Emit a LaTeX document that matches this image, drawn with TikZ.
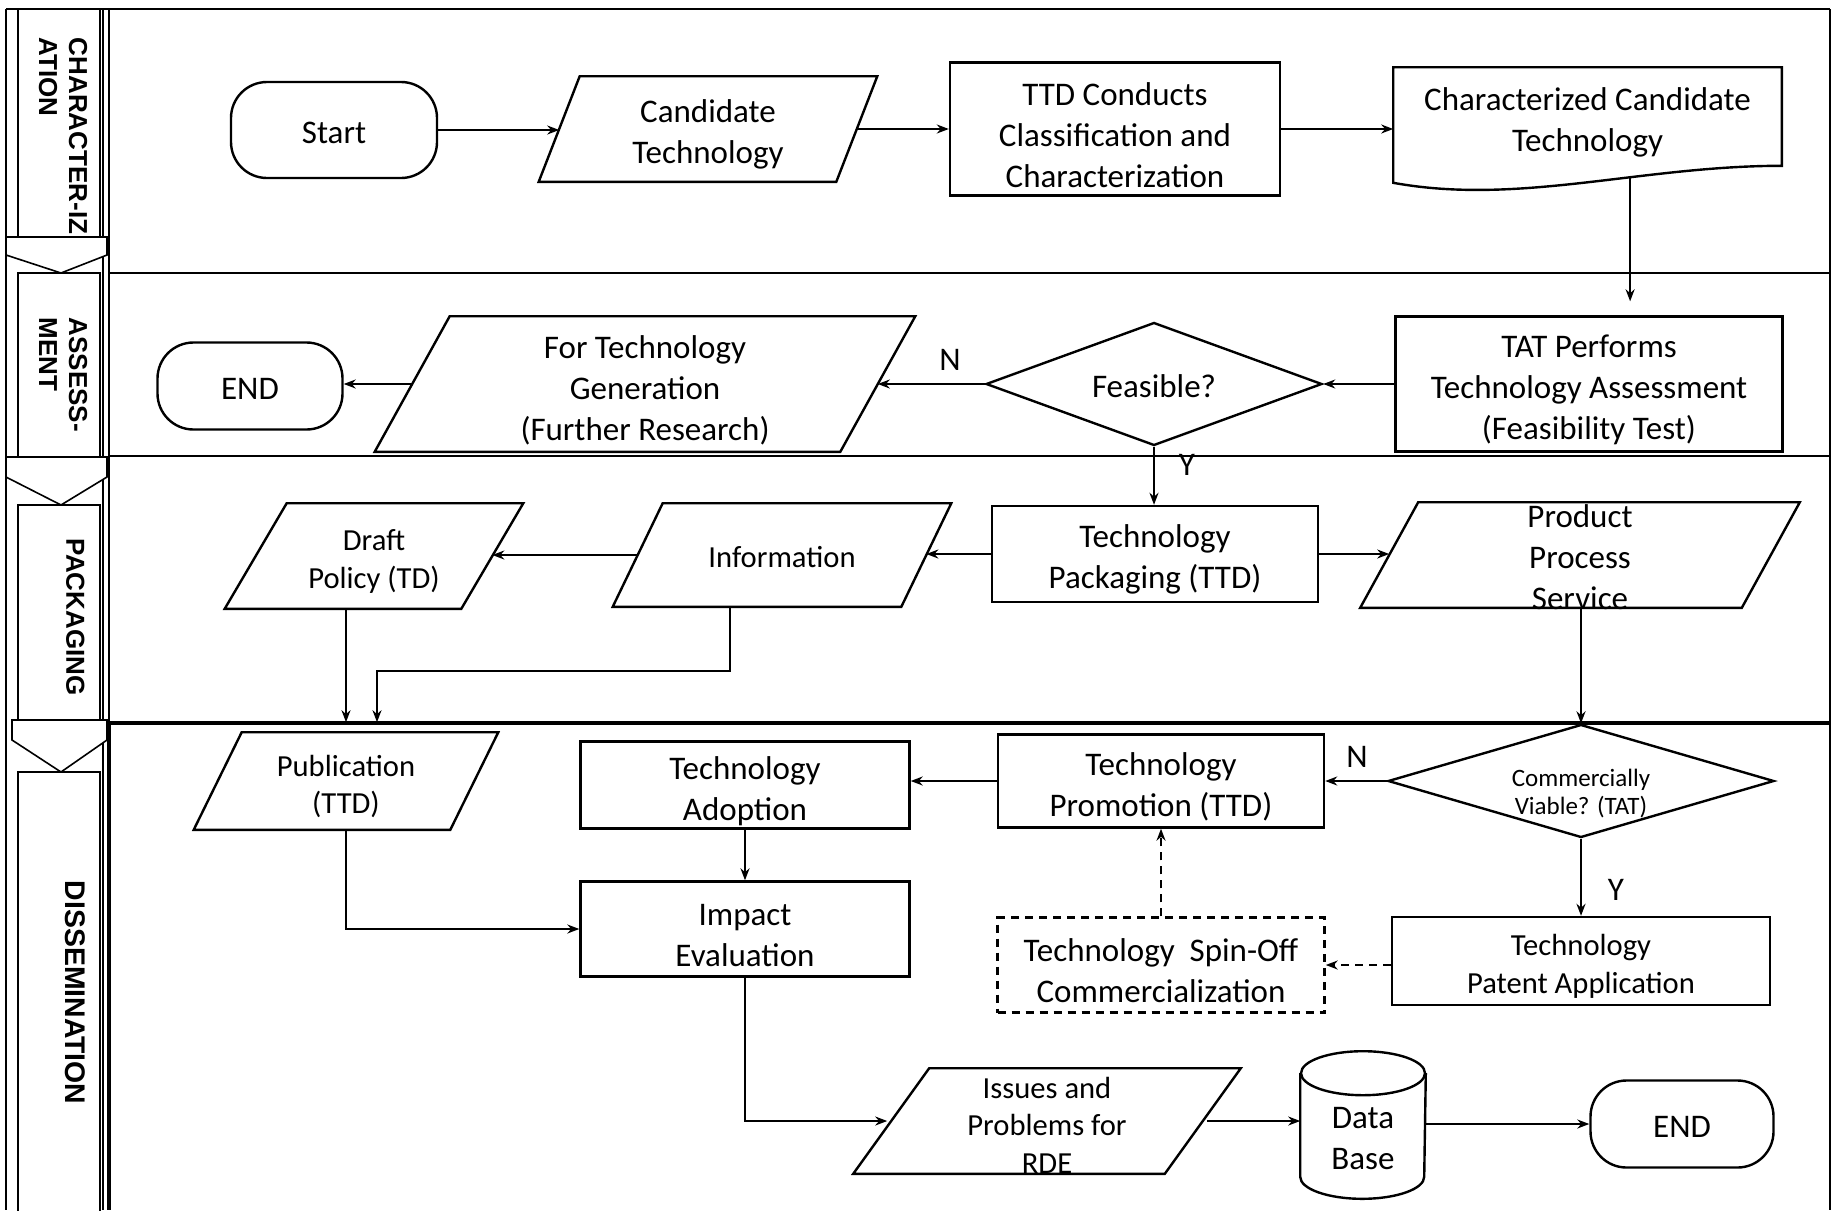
\documentclass[tikz,border=0pt]{standalone}
\usepackage{fontspec}
\setmainfont{Carlito}
\newfontfamily\lanefont{Liberation Sans}
\usetikzlibrary{shapes.geometric,arrows.meta,calc}

\tikzset{
  every node/.style={font=\fontsize{16.5}{20.5}\selectfont, align=center, inner sep=1pt,
    execute at begin node={\rule{0pt}{0.8em}}},
  plain/.style={execute at begin node={}},
  proc/.style={draw, line width=1.2pt, rectangle},
  term/.style={draw, line width=1.2pt, rectangle, rounded corners=18pt},
  data/.style={rectangle},
  decide/.style={draw, line width=1.2pt, diamond, inner sep=0pt},
  flow/.style={line width=1pt, -{Stealth[length=6pt,width=4.5pt]}},
  medium/.style={font=\fontsize{15.3}{18.7}\selectfont},
  small/.style={font=\fontsize{12.5}{14}\selectfont},
  lane/.style={plain, font=\lanefont\bfseries\fontsize{13}{15}\selectfont, rotate=-90,
    anchor=north west, inner sep=0pt, align=left},
  chevron/.style={draw, fill=white, line width=0.8pt}
}
\newcommand{\lnup}{\rule{0pt}{1.05em}}
\newcommand{\paraline}[2]{\draw[line width=1.2pt] ($(#1.north west)+(#2,0)$) -- ($(#1.north east)+(#2,0)$)
  -- ($(#1.south east)+(-#2,0)$) -- ($(#1.south west)+(-#2,0)$) -- cycle;}

\begin{document}
\begin{tikzpicture}[x=0.5pt,y=-0.5pt,line width=0.8pt]
\useasboundingbox (0,0) rectangle (1834,1210);

\draw (6,9) -- (1830,9);
\draw (6,9) -- (6,1210);
\draw (103,9) -- (103,1210);
\draw (109,9) -- (109,723);
\draw[line width=2pt] (109,723) -- (109,1210);
\draw (1830,9) -- (1830,1210);
\draw (109,273) -- (1830,273);
\draw (109,456) -- (1830,456);
\draw[line width=2pt] (109,723) -- (1830,723);

\draw (18,9) rectangle (100,237);
\draw (18,273) rectangle (100,457);
\draw (18,505) rectangle (100,720);
\draw (18,772) rectangle (100,1212);
\draw[chevron] (6,237) -- (107,237) -- (107,255) -- (61,273) -- (6,255) -- cycle;
\draw[chevron] (6,457) -- (107,457) -- (107,477) -- (61,505) -- (6,477) -- cycle;
\draw[chevron] (12,720) -- (107,720) -- (107,740) -- (61,772) -- (12,740) -- cycle;

\node[lane] (lchar) at (88,37) {CHARACTER-IZ\\ATION};
\node[lane] (lassess) at (88,317) {ASSESS-\\MENT};
\node[lane] (lpack) at (88,538) {PACKAGING};
\node[lane, font=\lanefont\bfseries\fontsize{14.2}{15}\selectfont] (ldissem) at (89,880) {DISSEMINATION};

\node[term, minimum width=103pt, minimum height=48pt] (start) at (334,130) {Start};
\node[data, minimum width=148pt, minimum height=52pt] (cand) at (708,129) {\lnup Candidate\\Technology};
\paraline{cand}{20.5}
\node[proc, minimum width=165pt, minimum height=66.5pt] (ttd) at (1115,129) {\lnup TTD Conducts\\Classification and\\Characterization};
\node[minimum width=193.5pt, minimum height=48.5pt] (chct) at (1587.5,116.5) {\lnup Characterized Candidate\\Technology};
\draw[line width=1.2pt] (chct.south east) -- (chct.north east) -- (chct.north west)
  -- ($(chct.south west)+(0,17)$)
  .. controls ($(chct.south west)+(126,40)$) and ($(chct.south east)+(-141,0)$) .. (chct.south east)
  coordinate[pos=0.625] (chctout) -- cycle;

\node[proc, minimum width=193.5pt, minimum height=67.5pt] (tat) at (1589,384) {\lnup TAT Performs\\Technology Assessment\\(Feasibility Test)};
\node[decide, aspect=2.73, minimum width=168pt, minimum height=61.5pt] (feas) at (1154,384) {Feasible?};
\node[data, minimum width=232pt, minimum height=67pt] (further) at (645,384) {\lnup For Technology\\Generation\\(Further Research)};
\paraline{further}{37.5}
\node[term, minimum width=92.5pt, minimum height=43.5pt] (endA) at (250,386) {END};

\node[data, medium, minimum width=117.5pt, minimum height=52pt] (draft) at (374,556) {\lnup Draft\\Policy (TD)};
\paraline{draft}{31}
\node[data, medium, minimum width=143.5pt, minimum height=51pt] (info) at (782,555) {Information};
\paraline{info}{25}
\node[proc, minimum width=163pt, minimum height=48pt] (pack) at (1155,554) {\lnup Technology\\Packaging (TTD)};
\node[data, minimum width=190pt, minimum height=52pt] (pps) at (1580,555) {};
\paraline{pps}{29}
\node[plain] (ppstext) at (1580,557) {Product\\Process\\Service};

\node[data, medium, minimum width=127.5pt, minimum height=48pt] (pub) at (346,781) {\lnup Publication\\(TTD)};
\paraline{pub}{24}
\node[proc, minimum width=164.5pt, minimum height=43.5pt] (adopt) at (745,785) {\lnup Technology\\Adoption};
\node[proc, minimum width=163pt, minimum height=46.5pt] (promo) at (1161,781) {\lnup Technology\\Promotion (TTD)};
\node[decide, aspect=3.4, minimum width=193pt, minimum height=56.5pt] (cv) at (1581,781) {};
\node[plain, small] (cvtext) at (1581,794) {Commercially\\Viable? (TAT)};

\node[proc, minimum width=164.5pt, minimum height=47.5pt] (impact) at (745,929) {\lnup Impact\\Evaluation};
\node[proc, dash pattern=on 4pt off 3pt, minimum width=163.5pt, minimum height=47.5pt] (spin) at (1161,965) {\lnup Technology~~Spin-Off\\Commercialization};
\node[proc, medium, minimum width=189pt, minimum height=44pt] (patent) at (1581,961) {\lnup Technology\\Patent Application};

\node[data, minimum width=155pt, minimum height=52pt] (issues) at (1047,1121) {};
\paraline{issues}{38}
\node[plain, medium] (issuestext) at (1047,1125) {Issues and\\Problems for\\RDE};
\node[plain, minimum width=62pt, minimum height=73pt] (db) at (1363,1125) {};
\draw[line width=1.2pt] ($(db.north)+(0,22)$) ellipse [x radius=31pt, y radius=11pt];
\draw[line width=1.2pt] ($(db.north west)+(0,22)$) -- ($(db.south west)+(0,-22)$)
  arc[start angle=180, end angle=360, x radius=31pt, y radius=11pt] -- ($(db.north east)+(0,22)$);
\node[plain] (dbtext) at (1363,1139) {Data\\Base};
\node[term, minimum width=91.5pt, minimum height=43.5pt] (endB) at (1682,1124) {END};

\node[plain] (nfeas) at (950,357) {N};
\node[plain] (yfeas) at (1187,462) {Y};
\node[plain] (ncv) at (1357,754) {N};
\node[plain] (ycv) at (1616,887) {Y};

\draw[flow] (start.east) -- (start.east -| cand.west);
\draw[flow] (cand.east) -- (cand.east -| ttd.west);
\draw[flow] (ttd.east) -- (ttd.east -| chct.west);
\draw[flow, shorten >=7pt] (chctout) -- (chctout |- tat.north);
\draw[flow] (tat.west) -- (tat.west -| feas.east);
\draw[flow] (feas.west) -- (feas.west -| further.east);
\draw[flow] (further.west) -- (further.west -| endA.east);
\draw[flow] (feas.south) -- (feas.south |- pack.north);
\draw[flow] (pack.west) -- (pack.west -| info.east);
\draw[flow] (info.west) -- (info.west -| draft.east);
\draw[flow] (pack.east) -- (pack.east -| pps.west);
\draw[flow, shorten >=5pt] (pub.center |- draft.south) -- (pub.center |- pub.north);
\draw[flow, shorten >=5pt] ([xshift=-26pt]info.center |- info.south) -- ++(0,64) -| ([xshift=15.5pt]pub.center |- pub.north);
\draw[flow] (cv.north |- pps.south) -- (cv.north);
\draw[flow] (cv.west) -- (cv.west -| promo.east);
\draw[flow] (promo.west) -- (promo.west -| adopt.east);
\draw[flow] (cv.south) -- (cv.south |- patent.north);
\draw[flow] (adopt.south) -- (adopt.south |- impact.north);
\draw[flow] (pub.south) |- (impact.west);
\draw[flow, dash pattern=on 4pt off 3pt] (spin.east -| patent.west) -- (spin.east);
\draw[flow, dash pattern=on 4pt off 3pt] (spin.north) -- (spin.north |- promo.south);
\draw[flow] (impact.south) |- ([xshift=-2pt]issues.west);
\draw[flow] ([xshift=2pt]issues.east) -- (issues.east -| db.west);
\draw[flow] (db.east |- endB.west) -- (endB.west);
\end{tikzpicture}
\end{document}
